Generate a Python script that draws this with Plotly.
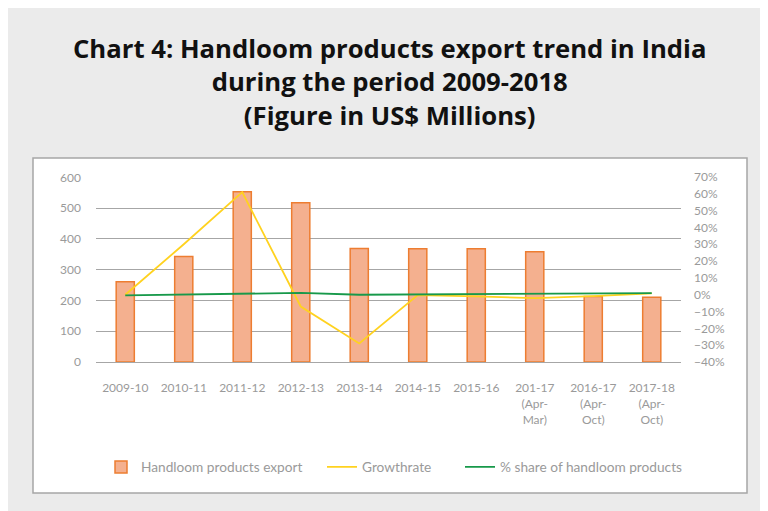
import plotly.graph_objects as go

categories = ["2009-10", "2010-11", "2011-12", "2012-13", "2013-14", "2014-15",
              "2015-16", "201-17<br>(Apr-<br>Mar)", "2016-17<br>(Apr-<br>Oct)",
              "2017-18<br>(Apr-<br>Oct)"]
export_values = [261, 343, 553, 517, 369, 368, 368, 358, 213, 210]
growth_rate = [0.0, 0.30, 0.61, -0.07, -0.29, -0.002, -0.01, -0.02, -0.008, 0.008]
share_pct = [-0.004, 0.0, 0.006, 0.011, 0.0, 0.002, 0.004, 0.005, 0.007, 0.009]

OFF = 8  # default page body margin
W, H = 768 - OFF, 511 - OFF
L, R, T, B = 96 - OFF, 681 - OFF, 177 - OFF, 362 - OFF
pw, ph = R - L, B - T

def px(x):
    return (x - OFF - L) / pw

def py(y):
    return (B - (y - OFF)) / ph

tick_font = dict(family="Lato", size=12, color="#9a9a9a")
leg_font = dict(family="Lato", size=13.7, color="#9a9a9a")

fig = go.Figure()
fig.add_trace(go.Bar(
    x=categories, y=export_values, name="Handloom products export",
    marker=dict(color="#f4b08f", line=dict(color="#ed7d31", width=1.5)),
    width=0.31, yaxis="y", legend="legend",
))
fig.add_trace(go.Scatter(
    x=categories, y=growth_rate, name="Growthrate", mode="lines",
    line=dict(color="#ffd21f", width=1.8), yaxis="y2", legend="legend2",
))
fig.add_trace(go.Scatter(
    x=categories, y=share_pct, name="% share of handloom products", mode="lines",
    line=dict(color="#17994a", width=1.8), yaxis="y2", legend="legend3",
))

shapes = [
    dict(type="rect", xref="paper", yref="paper", x0=px(8), x1=px(768), y0=py(511), y1=py(7),
         fillcolor="#ebebeb", line=dict(width=0), layer="below"),
    dict(type="rect", xref="paper", yref="paper", x0=px(33), x1=px(747), y0=py(493), y1=py(158),
         fillcolor="#ffffff", line=dict(color="#a6a6a6", width=1.5), layer="below"),
]

def leg(xpix):
    return dict(orientation="h", x=px(xpix), xanchor="left", y=py(467), yanchor="middle",
                font=leg_font, bgcolor="rgba(0,0,0,0)", itemwidth=30)

LOFF = 6
fig.update_layout(
    width=W, height=H,
    margin=dict(l=L, r=W - R, t=T, b=H - B, pad=0),
    paper_bgcolor="#ffffff", plot_bgcolor="#ffffff",
    shapes=shapes,
    showlegend=True,
    legend=leg(107 - LOFF),
    legend2=leg(328 - LOFF),
    legend3=leg(466 - LOFF),
    xaxis=dict(type="category", showgrid=False, showline=True, linecolor="#a6a6a6",
               linewidth=1, ticks="", tickfont=tick_font, tickangle=0,
               ticklabelstandoff=15),
    yaxis=dict(range=[0, 601], dtick=100, showgrid=True, gridcolor="#a6a6a6",
               gridwidth=1, zeroline=False, ticks="", tickfont=tick_font,
               ticklabelstandoff=14, showline=False),
    yaxis2=dict(range=[-0.4, 0.7], dtick=0.1, tickformat=".0%", overlaying="y",
                side="right", showgrid=False, zeroline=False, ticks="",
                tickfont=tick_font, ticklabelstandoff=12, showline=False),
    annotations=[
        dict(text="Chart 4: Handloom products export trend in India<br>during the period 2009-2018<br>(Figure in US$ Millions)",
             xref="paper", yref="paper", x=px(389), y=py(82), xanchor="center", yanchor="middle",
             showarrow=False, align="center",
             font=dict(family="Open Sans", size=25.7, color="#111111", weight="bold")),
    ],
)

fig.write_html("out.html")
